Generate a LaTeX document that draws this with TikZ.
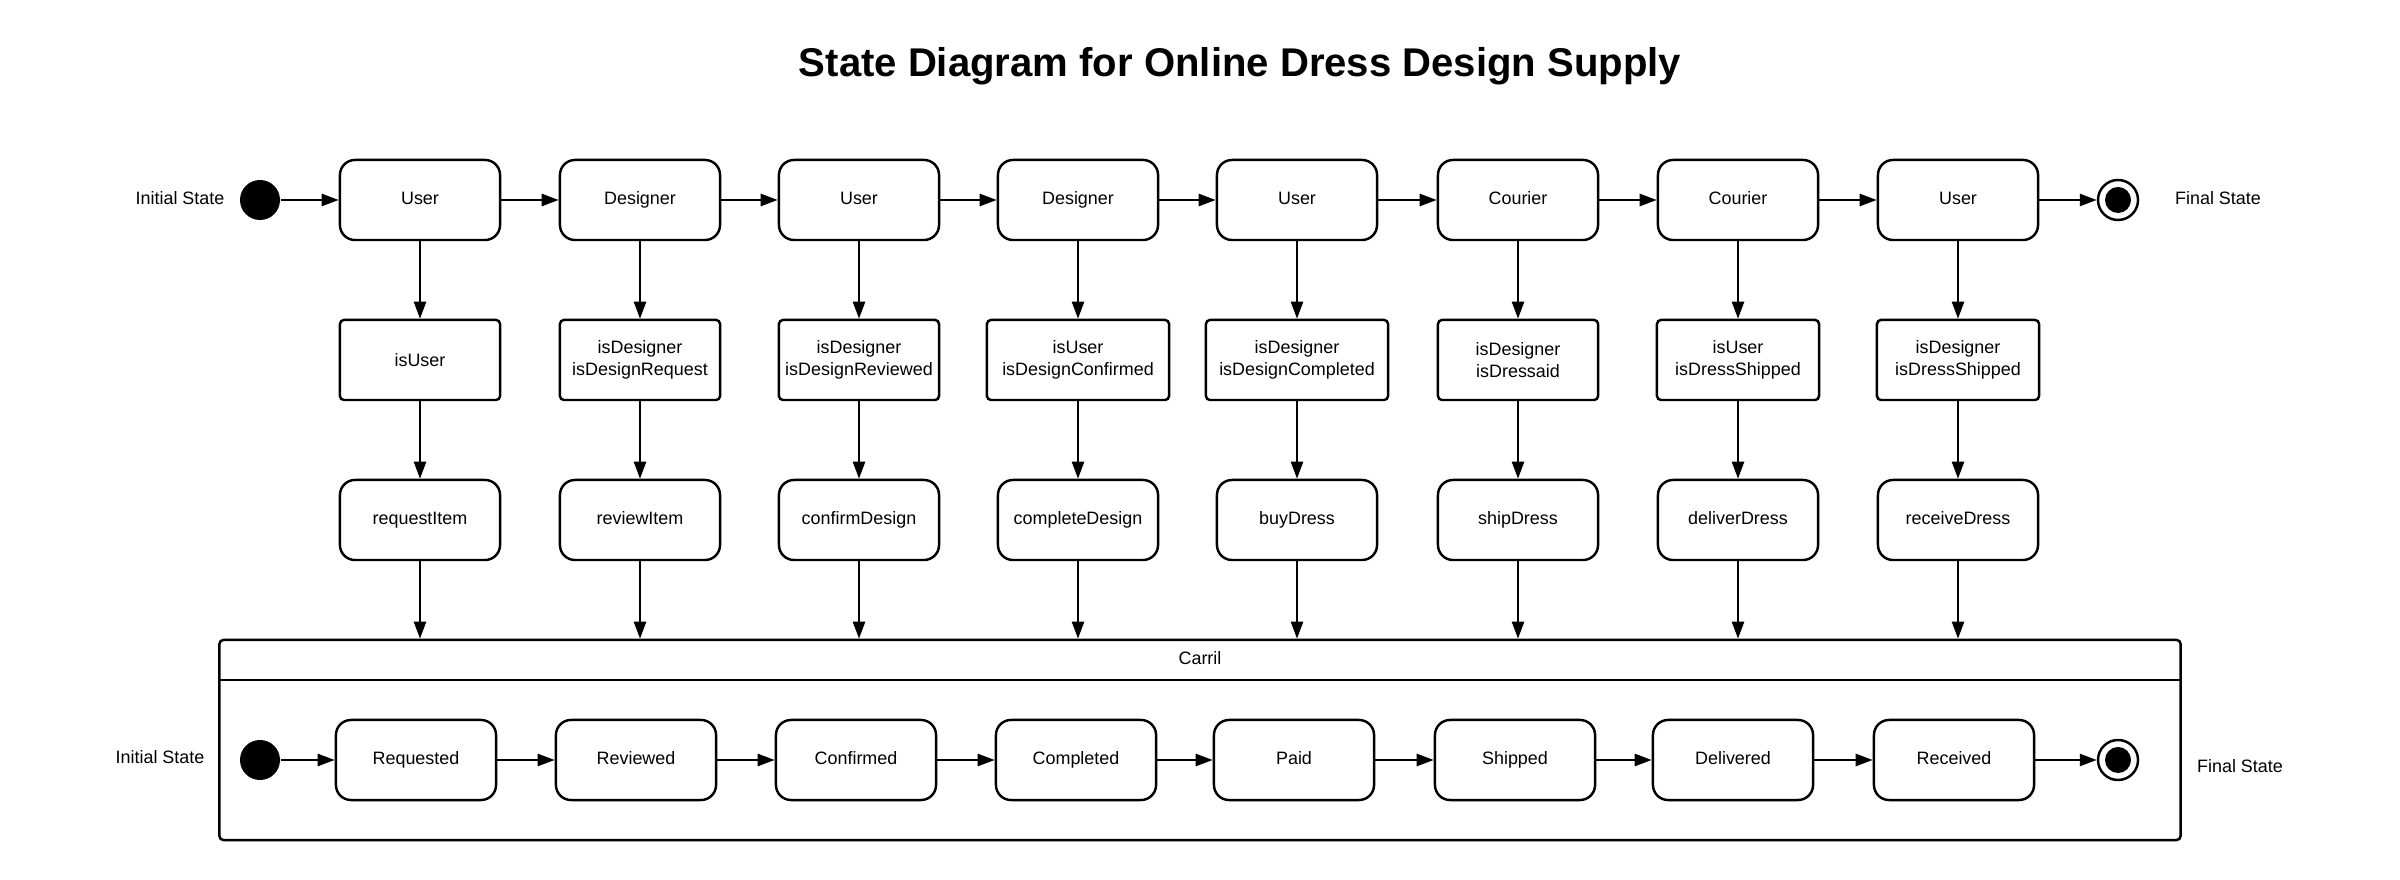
\documentclass[tikz,border=0pt]{standalone}
\usepackage{fontspec}
\setmainfont{Liberation Sans}
\usetikzlibrary{arrows.meta}
\begin{document}
\begin{tikzpicture}[x=0.01cm,y=-0.01cm,
  every node/.style={font=\fontsize{5.1}{6.2}\selectfont},
  lw/.style={line width=0.7pt},
  state/.style={draw, line width=0.7pt, rounded corners=0.15cm, minimum width=1.6cm, minimum height=0.8cm, inner sep=0pt, align=center, text height=0.127cm, text depth=0.04cm},
  guard/.style={draw, line width=0.7pt, rounded corners=0.04cm, minimum width=1.6cm, minimum height=0.8cm, inner sep=0pt, align=center},
  startst/.style={circle, fill=black, minimum size=0.4cm, inner sep=0pt},
  endst/.style={circle, draw, line width=0.7pt, minimum size=0.4cm, inner sep=0pt, path picture={\fill (path picture bounding box.center) circle (0.13cm);}},
  arr/.style={line width=0.7pt, -{Triangle[length=0.17cm,width=0.12cm]}},
  lbl/.style={inner sep=0pt}
]
\useasboundingbox (0,0) rectangle (2400,880);

\node[font=\fontsize{11.4}{13}\selectfont\bfseries] (title) at (1240,66) {State Diagram for Online Dress Design Supply};

% top row
\node[startst] (init1) at (260,200) {};
\node[lbl] (initlbl1) at (180,198) {Initial State};
\foreach \i/\x/\t in {1/420/User,2/640/Designer,3/859/User,4/1078/Designer,5/1297/User,6/1518/Courier,7/1738/Courier,8/1958/User}
  \node[state] (t\i) at (\x,200) {\t};
\node[endst] (fin1) at (2118,200) {};
\node[lbl] (finlbl1) at (2218,198) {Final State};

% guards
\node[guard] (g1) at (420,360) {isUser};
\node[guard] (g2) at (640,360) {isDesigner\\isDesignRequest};
\node[guard] (g3) at (859,360) {isDesigner\\isDesignReviewed};
\node[guard, minimum width=1.82cm] (g4) at (1078,360) {isUser\\isDesignConfirmed};
\node[guard, minimum width=1.82cm] (g5) at (1297,360) {isDesigner\\isDesignCompleted};
\node[guard] (g6) at (1518,360) {isDesigner\\isDressaid};
\node[guard, minimum width=1.62cm] (g7) at (1738,360) {isUser\\isDressShipped};
\node[guard, minimum width=1.62cm] (g8) at (1958,360) {isDesigner\\isDressShipped};

% actions
\foreach \i/\x/\t in {1/420/requestItem,2/640/reviewItem,3/859/confirmDesign,4/1078/completeDesign,5/1297/buyDress,6/1518/shipDress,7/1738/deliverDress,8/1958/receiveDress}
  \node[state] (a\i) at (\x,520) {\t};

% Carril
\node[draw, line width=0.7pt, rounded corners=0.04cm, minimum width=19.6cm, minimum height=2.0cm, inner sep=0pt] (carril) at (1200,740) {};
\coordinate (hl) at (0,680);
\draw[lw] (carril.west |- hl) -- (carril.east |- hl);
\node (carriltxt) at (1200,658) {Carril};

% inner row
\node[startst] (init2) at (260,760) {};
\node[lbl] (initlbl2) at (160,757) {Initial State};
\foreach \i/\x/\t in {1/416/Requested,2/636/Reviewed,3/856/Confirmed,4/1076/Completed,5/1294/Paid,6/1515/Shipped,7/1733/Delivered,8/1954/Received}
  \node[state] (s\i) at (\x,760) {\t};
\node[endst] (fin2) at (2118,760) {};
\node[lbl] (finlbl2) at (2240,766) {Final State};

% connectors
\draw[arr] (init1) -- (t1);
\draw[arr] (t8) -- (fin1);
\draw[arr] (init2) -- (s1);
\draw[arr] (s8) -- (fin2);
\foreach \i [count=\j from 2] in {1,...,7} {
  \draw[arr] (t\i) -- (t\j);
  \draw[arr] (s\i) -- (s\j);
}
\foreach \i in {1,...,8} {
  \draw[arr] (t\i.south) -- (g\i.north);
  \draw[arr] (g\i.south) -- (a\i.north);
  \draw[arr] (a\i.south) -- (a\i.south |- carril.north);
}
\end{tikzpicture}
\end{document}
